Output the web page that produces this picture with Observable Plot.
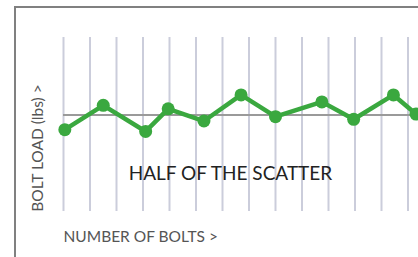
<!DOCTYPE html>
<html>
<head>
<meta charset="utf-8">
<script src="https://cdn.jsdelivr.net/npm/d3@7"></script>
<script src="https://cdn.jsdelivr.net/npm/@observablehq/plot@0.6"></script>
<style>
  html, body { margin: 0; padding: 0; background: #fff; overflow: hidden; }
  #wrap { position: relative; width: 418px; height: 257px; overflow: hidden; }
  #frame { position: absolute; left: 14px; top: 6px; width: 600px; height: 400px;
           border-left: 2px solid #808080; border-top: 2px solid #808080; box-sizing: border-box; }
  #chart { position: absolute; left: 0; top: 0; }
</style>
</head>
<body>
<div id="wrap"><div id="frame"></div><div id="chart"></div></div>
<script>
// bolt positions (gridlines) and measured bolt loads
const gridBolts = [0,1,2,3,4,5,6,7,8,9,10,11,12,13,14];
const sampleX = [0.05, 1.5, 3.1, 3.95, 5.3, 6.7, 8.0, 9.75, 10.95, 12.45, 13.3, 14.2];
const sampleLoad = [4.7, 6.1, 4.6, 5.9, 5.2, 6.7, 5.45, 6.3, 5.3, 6.7, 5.6, 5.0];
const meanLoad = [5.55];
const title = "HALF OF THE SCATTER";
const yLabel = "BOLT LOAD (lbs) >";
const xLabel = "NUMBER OF BOLTS >";

const pts = sampleX.map((x, i) => ({x, y: sampleLoad[i]}));
const font = "Lato, 'Open Sans', sans-serif";

const chart = Plot.plot({
  width: 418,
  height: 257,
  marginLeft: 63,
  marginRight: 10.5,
  marginTop: 37,
  marginBottom: 46,
  x: {domain: [0, 13], axis: null},
  y: {domain: [0, 10], axis: null},
  style: {background: "transparent", fontFamily: font, overflow: "hidden"},
  marks: [
    Plot.ruleX(gridBolts, {x: d => d, y1: 0, y2: 10, stroke: "#cbcddb", strokeWidth: 2}),
    Plot.ruleY(meanLoad, {y: d => d, x1: 0, x2: 15, stroke: "#9a9a9a", strokeWidth: 2}),
    Plot.line(pts, {x: "x", y: "y", stroke: "#3aa83f", strokeWidth: 4.5, strokeLinejoin: "round"}),
    Plot.dot(pts, {x: "x", y: "y", r: 6.5, fill: "#3aa83f"}),
    Plot.text([title], {x: 6.3, y: 2.18, text: d => d, fontSize: 19, fill: "#222", textAnchor: "middle", fontFamily: font}),
    Plot.text([yLabel], {x: -0.97, y: 3.65, text: d => d, rotate: -90, fontSize: 15.5, fill: "#555", textAnchor: "middle", fontFamily: font}),
    Plot.text([xLabel], {x: 0, y: -1.45, text: d => d, fontSize: 15.5, fill: "#555", textAnchor: "start", fontFamily: font})
  ]
});
document.getElementById("chart").appendChild(chart);
</script>
</body>
</html>
